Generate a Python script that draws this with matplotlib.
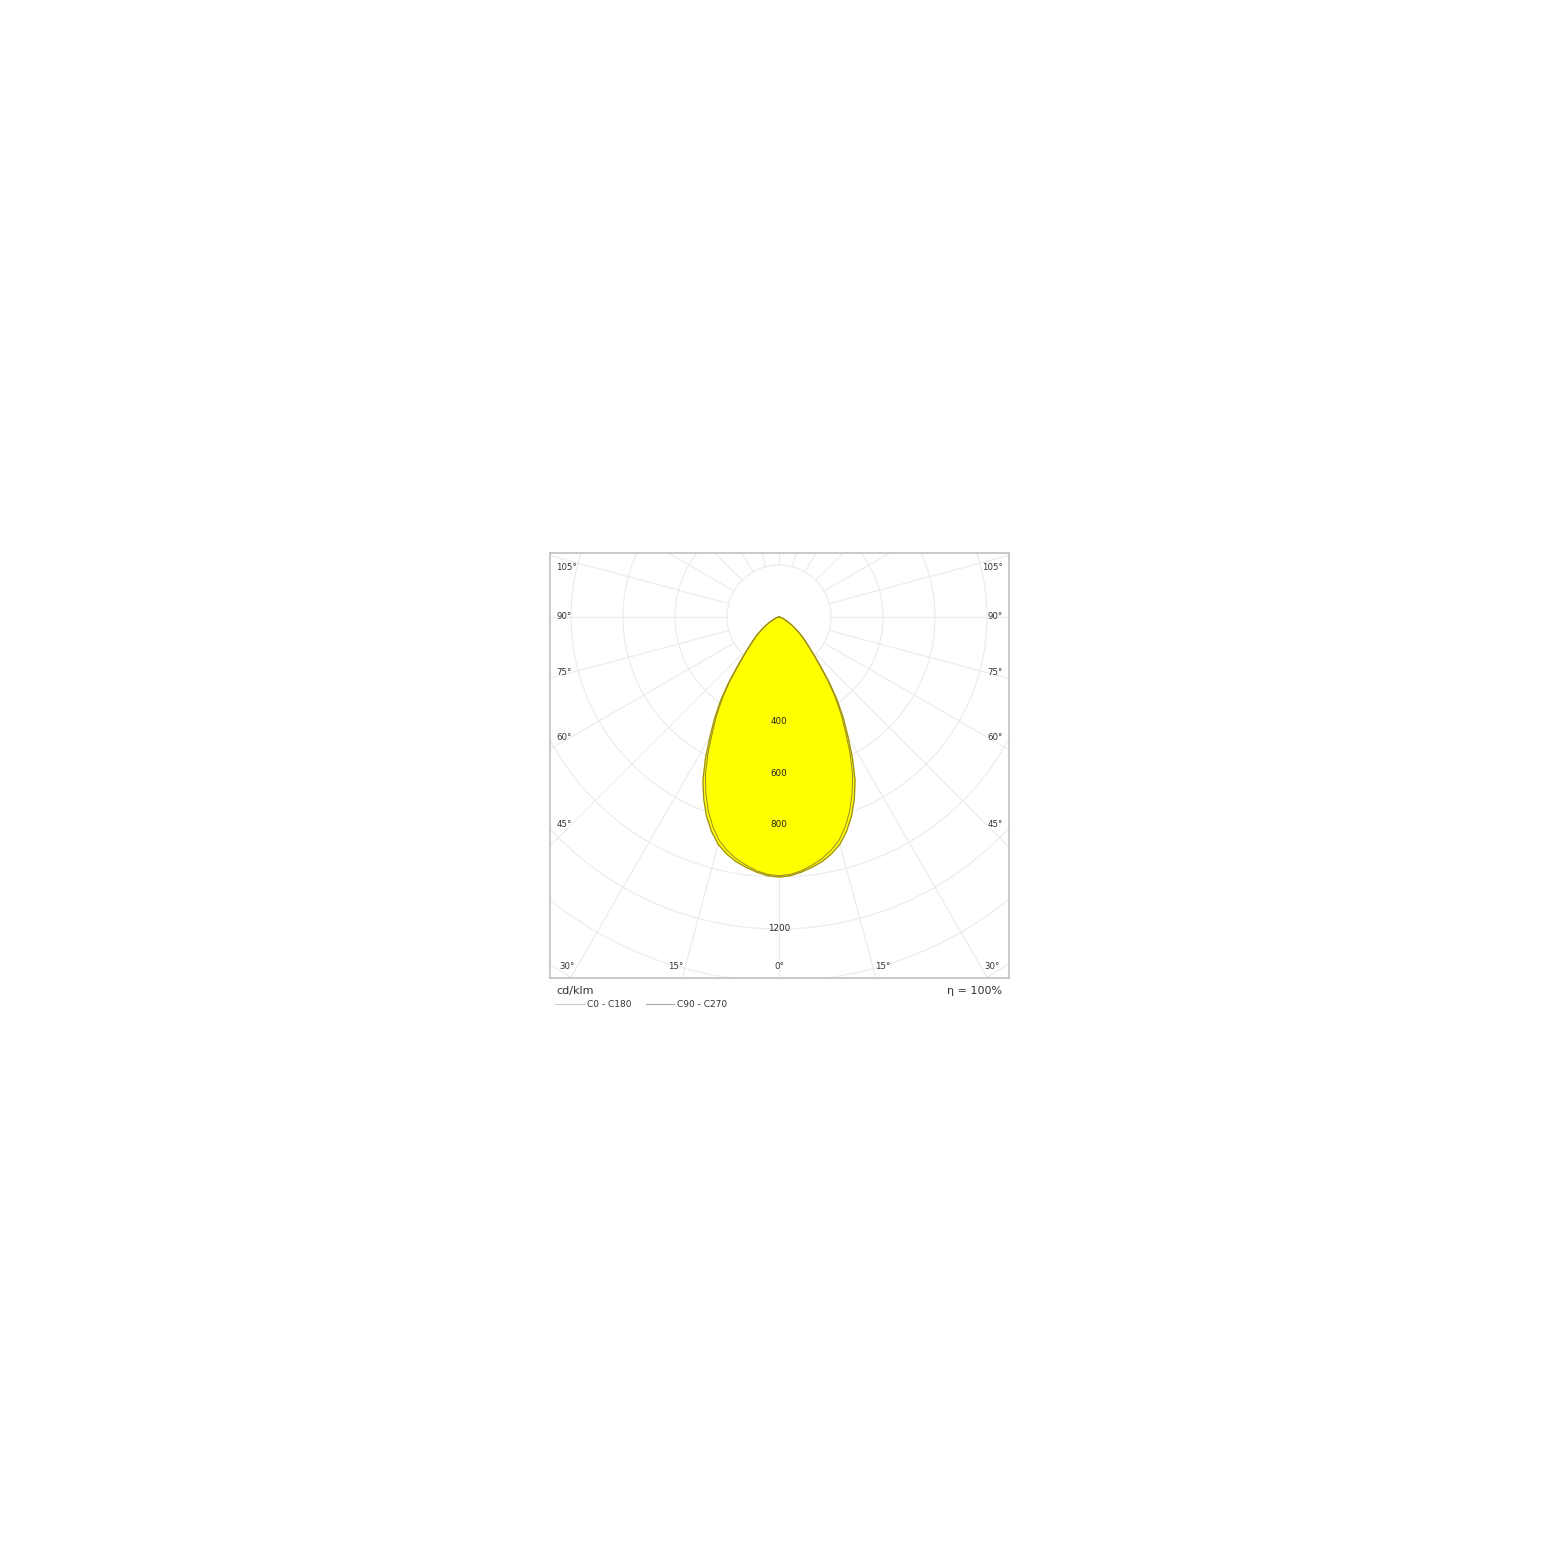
import numpy as np
import matplotlib.pyplot as plt
from matplotlib.lines import Line2D

# luminous intensity distribution, cd/klm (gamma angle in degrees from nadir)
gamma = [0, 2.5, 5, 7.5, 10, 12.5, 15, 17.5, 20, 22.5, 25, 27.5, 30, 32.5, 35, 37.5, 40,
         42.5, 45, 47.5, 50, 52.5, 55, 57.5, 60, 62.5, 65, 67.5, 70, 75, 80, 85, 90]
c0_c180 = [1000, 996, 985, 971, 955, 933, 905, 864, 815, 757, 692, 612, 530, 460, 390, 318, 250,
           202, 165, 138, 115, 94, 75, 59, 45, 34, 25, 19, 14, 8, 4, 2, 0]
c90_c270 = [995, 991, 980, 963, 945, 920, 890, 846, 795, 735, 670, 592, 512, 445, 378, 310, 243,
            198, 162, 136, 113, 93, 74, 59, 45, 34, 25, 19, 14, 8, 4, 2, 0]

rings = [200, 400, 600, 800, 1000, 1200, 1400, 1600]
ring_labels = [400, 600, 800, 1200]
spokes = np.arange(0, 360, 15)
side_angles = ['105°', '90°', '75°', '60°', '45°']
side_y = [192, 2, -212, -462, -800]
bottom_angles = ['30°', '15°', '0°', '15°', '30°']
bottom_x = [-815, -396, 0, 400, 819]

grid_col = '#ebebeb'
edge_col = '#9a8a2a'


def to_xy(ang, val):
    a = np.radians(np.concatenate([-np.array(ang[::-1]), np.array(ang[1:])]))
    r = np.concatenate([np.array(val[::-1]), np.array(val[1:])])
    return r * np.sin(a), -r * np.cos(a)


fig = plt.figure(figsize=(15.6, 15.61), dpi=100)
ax = fig.add_axes([550 / 1560, 1 - 978 / 1561, 459 / 1560, 425 / 1561])
ax.set_xlim(-880.8, 884.6)
ax.set_ylim(-1388.5, 246.2)
ax.set_xticks([])
ax.set_yticks([])
for s in ax.spines.values():
    s.set_color('#c0c0c0')
    s.set_linewidth(1.2)

t = np.linspace(0, 2 * np.pi, 400)
for r in rings:
    ax.plot(r * np.cos(t), r * np.sin(t), color=grid_col, lw=0.8, zorder=1)
for a in np.radians(spokes):
    ax.plot([200 * np.sin(a), 2500 * np.sin(a)], [-200 * np.cos(a), -2500 * np.cos(a)],
            color=grid_col, lw=0.8, zorder=1)

x1, y1 = to_xy(gamma, c0_c180)
x2, y2 = to_xy(gamma, c90_c270)
ax.fill(x1, y1, color='#ffff00', zorder=2)
ax.plot(x1, y1, color=edge_col, lw=0.9, zorder=3)
ax.plot(x2, y2, color=edge_col, lw=0.7, zorder=3)

for v in ring_labels:
    ax.text(0, -v, str(v), ha='center', va='center', fontsize=6.3, color='#222222', zorder=4)

for lab, yy in zip(side_angles, side_y):
    ax.text(-857, yy, lab, ha='left', va='center', fontsize=6.2, color='#333333')
    ax.text(860, yy, lab, ha='right', va='center', fontsize=6.2, color='#333333')
for lab, xx in zip(bottom_angles, bottom_x):
    ax.text(xx, -1346, lab, ha='center', va='center', fontsize=6.2, color='#333333')

ax.text(0.013, -0.03, 'cd/klm', transform=ax.transAxes, ha='left', va='center', fontsize=8, color='#333333')
ax.text(0.985, -0.03, 'η = 100%', transform=ax.transAxes, ha='right', va='center', fontsize=8, color='#333333')

handles = [Line2D([], [], color='#cccccc', lw=0.8), Line2D([], [], color='#a8a8a8', lw=0.8)]
ax.legend(handles, ['C0 - C180', 'C90 - C270'], loc='upper left', bbox_to_anchor=(0.011, -0.052),
          ncol=2, frameon=False, fontsize=6.5, handlelength=3.2, handletextpad=0.3,
          columnspacing=1.6, borderpad=0, borderaxespad=0, labelcolor='#333333')

fig.savefig('out.png', dpi=100, facecolor='white')
